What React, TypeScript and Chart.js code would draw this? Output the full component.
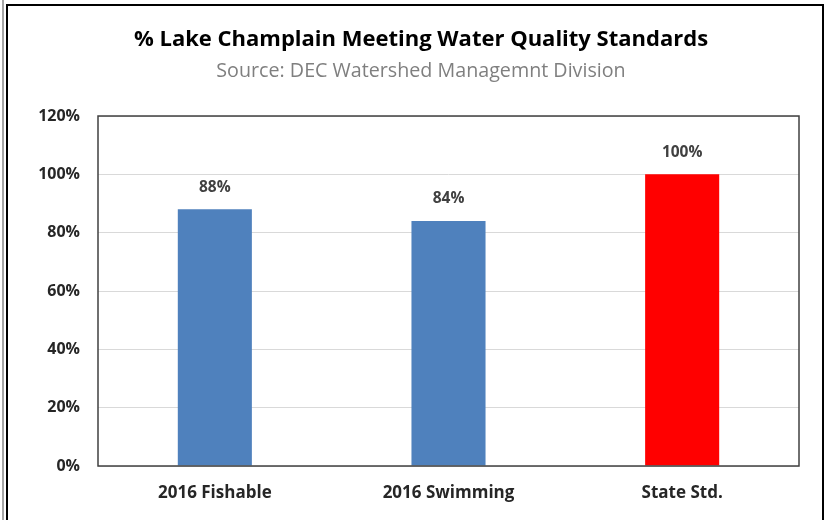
import React, { useEffect, useRef } from "react";
import { Chart, registerables } from "chart.js";

Chart.register(...registerables);

const categories = ["2016 Fishable", "2016 Swimming", "State Std."];
const values = [88, 84, 100];
const barColors = ["#4F81BD", "#4F81BD", "#FF0000"];
const yTicks = [0, 20, 40, 60, 80, 100, 120];
const titleText = "% Lake Champlain Meeting Water Quality Standards";
const subtitleText = "Source: DEC Watershed Managemnt Division";

const FONT = "'Open Sans', Lato, sans-serif";

const headings = {
  id: "headings",
  afterDraw(chart: any) {
    const { ctx } = chart;
    ctx.save();
    ctx.textAlign = "center";
    ctx.textBaseline = "middle";
    ctx.fillStyle = "#000000";
    ctx.font = `bold 22px ${FONT}`;
    ctx.fillText(titleText, 421, 39.5);
    ctx.fillStyle = "#7F7F7F";
    ctx.font = `normal 19.7px ${FONT}`;
    ctx.fillText(subtitleText, 421, 71);
    ctx.restore();
  },
};

const plotBorder = {
  id: "plotBorder",
  afterDraw(chart: any) {
    const { ctx, chartArea } = chart;
    ctx.save();
    ctx.strokeStyle = "#404040";
    ctx.lineWidth = 1.5;
    ctx.strokeRect(chartArea.left, chartArea.top, chartArea.right - chartArea.left, chartArea.bottom - chartArea.top);
    ctx.restore();
  },
};

const valueLabels = {
  id: "valueLabels",
  afterDatasetsDraw(chart: any) {
    const { ctx } = chart;
    const meta = chart.getDatasetMeta(0);
    ctx.save();
    ctx.font = `bold 15.5px ${FONT}`;
    ctx.fillStyle = "#404040";
    ctx.textAlign = "center";
    ctx.textBaseline = "middle";
    meta.data.forEach((bar: any, i: number) => {
      ctx.fillText(`${values[i]}%`, bar.x, bar.y - 22);
    });
    ctx.restore();
  },
};

export default function App() {
  const ref = useRef<HTMLCanvasElement>(null);
  useEffect(() => {
    if (!ref.current) return;
    const chart = new Chart(ref.current, {
      type: "bar",
      data: {
        labels: categories,
        datasets: [
          {
            data: values,
            backgroundColor: barColors,
            borderWidth: 0,
            barPercentage: 0.317,
            categoryPercentage: 1,
          },
        ],
      },
      options: {
        animation: false,
        responsive: false,
        maintainAspectRatio: false,
        layout: { padding: { left: 0, right: 34, top: 116, bottom: 0 } },
        plugins: {
          legend: { display: false },
          tooltip: { enabled: false },
          title: { display: false },
          subtitle: { display: false },
        },
        scales: {
          x: {
            grid: { display: false, drawTicks: false },
            border: { display: false },
            ticks: {
              color: "#262626",
              font: { family: FONT, size: 17, weight: "bold" },
              padding: 17,
            },
            afterFit(scale: any) {
              scale.height = 54;
            },
          },
          y: {
            min: 0,
            max: 120,
            afterBuildTicks(scale: any) {
              scale.ticks = yTicks.map((v) => ({ value: v }));
            },
            grid: { color: "#D9D9D9", drawTicks: false, lineWidth: 1 },
            border: { display: false },
            ticks: {
              color: "#262626",
              font: { family: FONT, size: 16, weight: "bold" },
              padding: 18,
              callback: (v: any) => `${v}%`,
            },
            afterFit(scale: any) {
              scale.width = 98;
            },
          },
        },
      },
      plugins: [plotBorder, valueLabels, headings],
    });
    return () => chart.destroy();
  }, []);

  return (
    <div style={{ position: "absolute", left: 0, top: 0, width: 833, height: 520, background: "#fff", overflow: "hidden" }}>
      <div style={{ position: "absolute", left: 2, top: 0, width: 2, height: 520, background: "#A6A6A6" }} />
      <div
        style={{
          position: "absolute",
          left: 6,
          top: 4,
          width: 818,
          height: 540,
          border: "2px solid #000",
          boxSizing: "border-box",
        }}
      />
      <canvas ref={ref} width={833} height={520} style={{ position: "absolute", left: 0, top: 0 }} />
    </div>
  );
}
